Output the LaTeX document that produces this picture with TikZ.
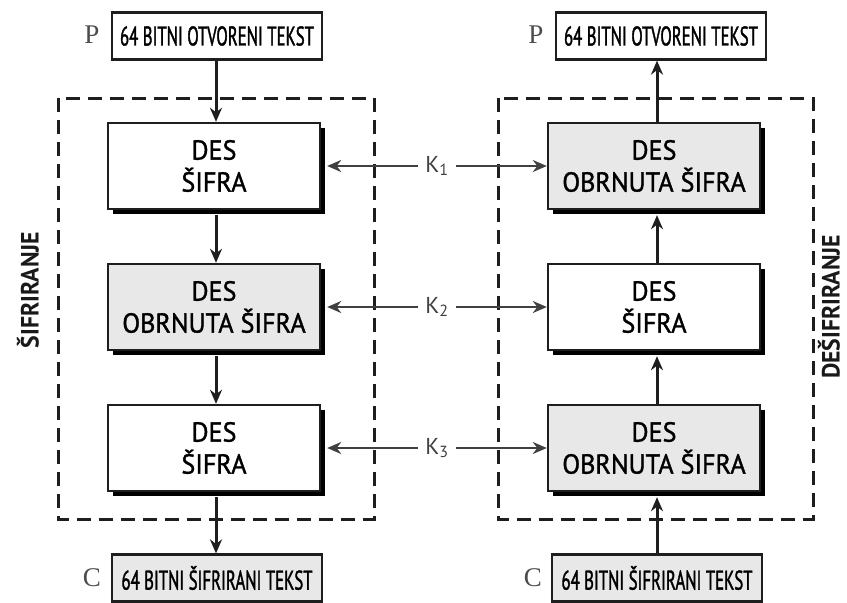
\documentclass[tikz,border=0pt]{standalone}
\usepackage{fontspec}
\usetikzlibrary{arrows.meta,shadows}
\newfontfamily\boxfont[FakeStretch=0.95,FakeBold=1.3]{PT Sans}
\newfontfamily\narrowfont[FakeStretch=0.62,FakeBold=1.3]{PT Sans}
\newfontfamily\sidefont[FakeStretch=0.95]{PT Sans Bold}
\newfontfamily\keyfont{PT Sans}
\newfontfamily\seriffont{Liberation Serif}
\definecolor{boxgray}{HTML}{E8E8E8}
\definecolor{linedark}{HTML}{1E1E1E}
\definecolor{keyline}{HTML}{404040}
\tikzset{
  desbox/.style={draw=linedark, line width=2.4pt, minimum width=212pt, minimum height=86pt,
    align=center, font=\boxfont\fontsize{27.5}{32}\selectfont, inner sep=0pt,
    drop shadow={shadow xshift=5pt, shadow yshift=-5pt, fill=black, opacity=1}},
  txtbox/.style={draw=linedark, line width=2.2pt, minimum width=210pt, minimum height=47pt,
    font=\narrowfont\fontsize{27}{30}\selectfont, inner sep=0pt},
  grayfill/.style={fill=boxgray},
  whitefill/.style={fill=white},
  flow/.style={draw=linedark, line width=3pt, -{Stealth[length=14pt,width=12pt]}},
  keyarrow/.style={draw=keyline, line width=2.6pt, {Stealth[length=14pt,width=12pt]}-{Stealth[length=14pt,width=12pt]}},
  keylabel/.style={fill=white, inner xsep=7pt, inner ysep=2pt, text=keyline, font=\keyfont\fontsize{23}{25}\selectfont},
  region/.style={draw=linedark, line width=3pt, dash pattern=on 14pt off 8pt},
  letter/.style={text=black!70, font=\seriffont\fontsize{27}{29}\selectfont},
  side/.style={rotate=90, inner sep=0pt, font=\sidefont\fontsize{25}{27}\selectfont, text=black!90}
}
\begin{document}
\begin{tikzpicture}[x=1pt,y=-1pt]
\useasboundingbox (0,0) rectangle (847,603);
% dashed regions
\draw[region] (58,98) rectangle (374,519);
\draw[region] (498,98) rectangle (813,519);
% left column
\node[txtbox, whitefill] (pl) at (217,36) {64 BITNI OTVORENI TEKST};
\node[desbox, whitefill] (l1) at (214,166) {DES\\ŠIFRA};
\node[desbox, grayfill] (l2) at (214,307) {DES\\OBRNUTA ŠIFRA};
\node[desbox, whitefill] (l3) at (214,448) {DES\\ŠIFRA};
\node[txtbox, grayfill] (cl) at (217,578) {64 BITNI ŠIFRIRANI TEKST};
\node[letter] (lp) at (92,35) {P};
\node[letter] (lc) at (92,578) {C};
% right column
\node[txtbox, whitefill] (pr) at (661,36) {64 BITNI OTVORENI TEKST};
\node[desbox, grayfill] (r1) at (654,166) {DES\\OBRNUTA ŠIFRA};
\node[desbox, whitefill] (r2) at (654,307) {DES\\ŠIFRA};
\node[desbox, grayfill] (r3) at (654,448) {DES\\OBRNUTA ŠIFRA};
\node[txtbox, grayfill] (cr) at (657,578) {64 BITNI ŠIFRIRANI TEKST};
\node[letter] (rp) at (536,35) {P};
\node[letter] (rc) at (533,578) {C};
% side labels
\node[side] (sl) at (28,290) {ŠIFRIRANJE};
\node[side] (sr) at (829,307) {DEŠIFRIRANJE};
% vertical flow left
\draw[flow] (pl.south -| 216,0) -- (l1.north -| 216,0);
\draw[flow] ([yshift=-5pt]l1.south -| 216,0) -- (l2.north -| 216,0);
\draw[flow] ([yshift=-5pt]l2.south -| 216,0) -- (l3.north -| 216,0);
\draw[flow] ([yshift=-5pt]l3.south -| 216,0) -- (cl.north -| 216,0);
% vertical flow right
\draw[flow] (cr.north -| 657,0) -- ([yshift=-5pt]r3.south -| 657,0);
\draw[flow] (r3.north -| 657,0) -- ([yshift=-5pt]r2.south -| 657,0);
\draw[flow] (r2.north -| 657,0) -- ([yshift=-5pt]r1.south -| 657,0);
\draw[flow] (r1.north -| 657,0) -- (pr.south -| 657,0);
% key arrows
\draw[keyarrow] ([xshift=6pt]l1.east) -- node[keylabel] (k1) {K\textsubscript{1}} (r1.west);
\draw[keyarrow] ([xshift=6pt]l2.east) -- node[keylabel] (k2) {K\textsubscript{2}} (r2.west);
\draw[keyarrow] ([xshift=6pt]l3.east) -- node[keylabel] (k3) {K\textsubscript{3}} (r3.west);
\end{tikzpicture}
\end{document}
